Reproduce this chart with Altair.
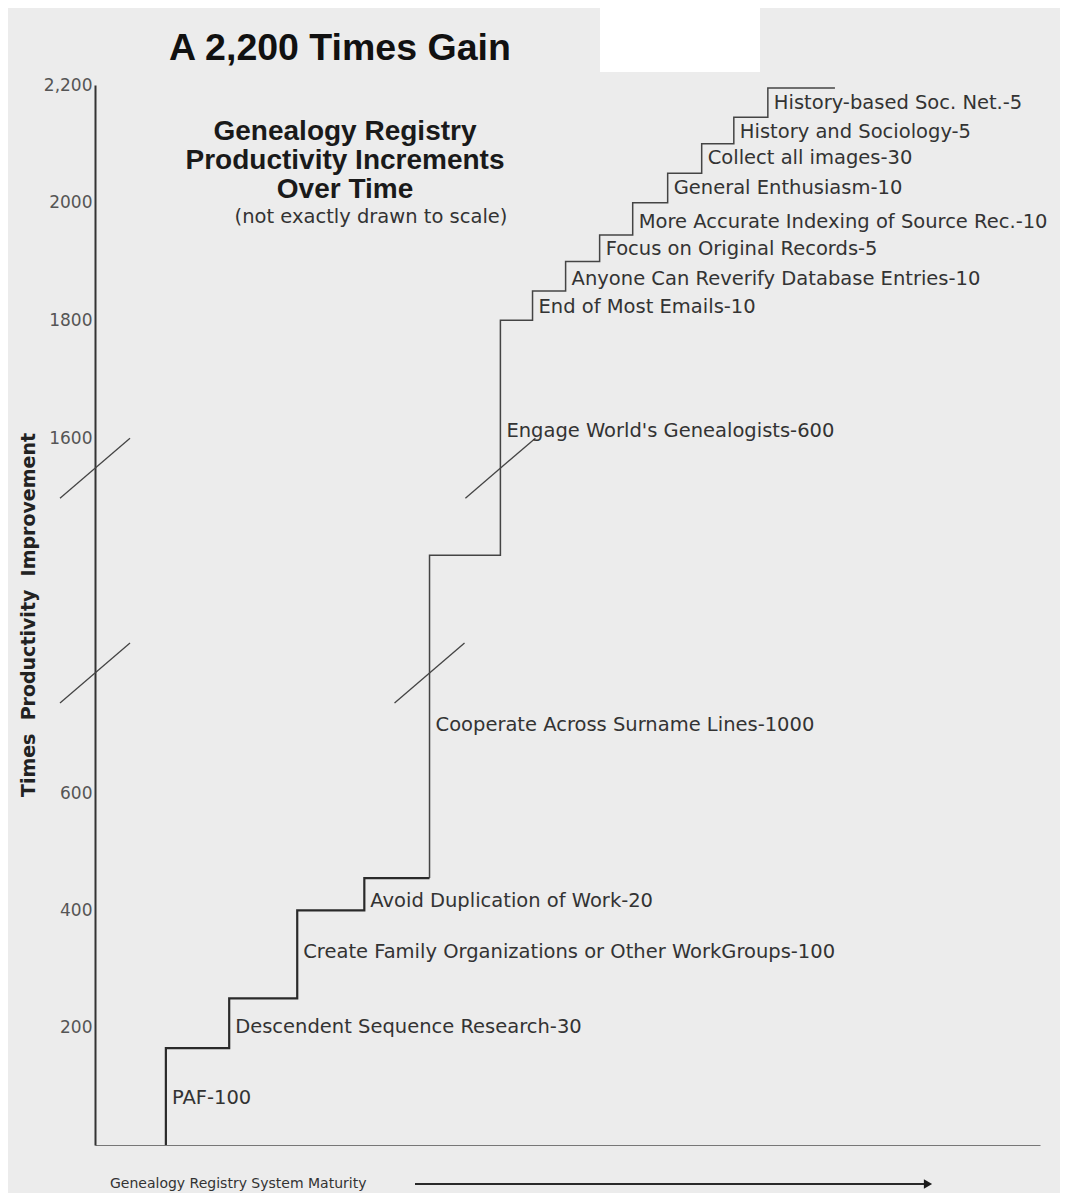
import altair as alt
import pandas as pd

# ---- data ----
step_labels = [
    "PAF-100",
    "Descendent Sequence Research-30",
    "Create Family Organizations or Other WorkGroups-100",
    "Avoid Duplication of Work-20",
    "Cooperate Across Surname Lines-1000",
    "Engage World's Genealogists-600",
    "End of Most Emails-10",
    "Anyone Can Reverify Database Entries-10",
    "Focus on Original Records-5",
    "More Accurate Indexing of Source Rec.-10",
    "General Enthusiasm-10",
    "Collect all images-30",
    "History and Sociology-5",
    "History-based Soc. Net.-5",
]
# system maturity (x) at which each step rises, 0..100
step_maturity = [7.5, 14.2, 21.4, 28.5, 35.4, 42.9, 46.3, 49.8, 53.4, 56.9, 60.6, 64.2, 67.6, 71.2]
end_maturity = 78.3
# level reached after each step (axis units, times improvement)
step_level = [165, 250, 400, 455, 1270, 1800, 1850, 1900, 1945, 2000, 2050, 2100, 2145, 2195]
# where each label sits (axis units)
label_level = [80, 201, 329, 416, 792, 1612, 1823, 1870, 1921, 1967, 2025, 2076, 2120, 2170]

tick_values = [200, 400, 600, 1600, 1800, 2000, 2200]
# broken-scale marks (axis units) and the x where each is drawn
break_level = [938, 1515, 938, 1515]
break_maturity = [0, 0, 35.4, 42.9]

# axis scale is broken (not drawn to scale): piecewise domain
y_domain = [0, 600, 1600, 2200]

W, H = 945, 1062
y_range = [H, 710, 355, 2]

xscale = alt.Scale(domain=[0, 100], nice=False, zero=False)
yscale = alt.Scale(domain=y_domain, range=y_range, nice=False, zero=False)
xaxis = alt.Axis(labels=False, ticks=False, title=None, grid=False,
                 domainColor="#777777", domainWidth=1)
yaxis = alt.Axis(values=tick_values, title=None, grid=False, ticks=False,
                 labelExpr="datum.value == 2200 ? '2,200' : '' + datum.value",
                 labelFont="DejaVu Sans", labelFontSize=17, labelColor="#555555",
                 labelPadding=3, labelFlush=False, labelOverlap=False,
                 domainColor="#333333", domainWidth=2)

X = alt.X("m:Q", scale=xscale, axis=xaxis)
Y = alt.Y("v:Q", scale=yscale, axis=yaxis)

# step line points
xs = [step_maturity[0]] + step_maturity + [end_maturity]
ys = [0] + step_level + [step_level[-1]]
lower = pd.DataFrame({"m": xs[:5] + [step_maturity[4]], "v": ys[:5] + [step_level[3]], "o": list(range(6))})
upper = pd.DataFrame({"m": [step_maturity[4]] + xs[5:], "v": [step_level[3]] + ys[5:],
                      "o": list(range(len(xs) - 4))})

line_lo = alt.Chart(lower).mark_line(interpolate="step-after", color="#2a2a2a", strokeWidth=2.2).encode(
    x=X, y=Y, order="o:Q")
line_hi = alt.Chart(upper).mark_line(interpolate="step-after", color="#444444", strokeWidth=1.5).encode(
    x=X, y=Y, order="o:Q")

labels_df = pd.DataFrame({"m": step_maturity, "v": label_level, "t": step_labels})
labels = alt.Chart(labels_df).mark_text(align="left", baseline="middle", dx=6,
                                        font="DejaVu Sans", fontSize=19.5, color="#333333").encode(
    x=X, y=Y, text="t:N")

breaks_df = pd.DataFrame({"m": break_maturity, "v": break_level})
breaks = alt.Chart(breaks_df).mark_rule(color="#444444", strokeWidth=1.3,
                                        xOffset=-35, yOffset=30, x2Offset=35, y2Offset=-30).encode(
    x=X, y=Y, x2="m:Q", y2="v:Q")

one = pd.DataFrame({"k": [0]})


def txt(s, x, y, **kw):
    return alt.Chart(one).mark_text(**kw).encode(x=alt.value(x), y=alt.value(y), text=alt.value(s))


white_box = alt.Chart(one).mark_rect(color="white").encode(
    x=alt.value(505), x2=alt.value(665), y=alt.value(-75), y2=alt.value(-11))

title = txt("A 2,200 Times Gain", 74, -23, align="left", baseline="alphabetic",
            font="Liberation Sans", fontSize=37.5, fontWeight="bold", color="#111111")
sub1 = txt("Genealogy Registry", 250, 57, align="center", baseline="alphabetic",
           font="Liberation Sans", fontSize=28, fontWeight="bold", color="#1a1a1a")
sub2 = txt("Productivity Increments", 250, 86, align="center", baseline="alphabetic",
           font="Liberation Sans", fontSize=28, fontWeight="bold", color="#1a1a1a")
sub3 = txt("Over Time", 250, 115, align="center", baseline="alphabetic",
           font="Liberation Sans", fontSize=28, fontWeight="bold", color="#1a1a1a")
note = txt("(not exactly drawn to scale)", 276, 140, align="center", baseline="alphabetic",
           font="DejaVu Sans", fontSize=19.5, color="#333333")
ytitle = txt("Times\u00a0\u00a0Productivity\u00a0\u00a0Improvement", -66, 532, align="center",
             baseline="middle", angle=270, font="DejaVu Sans", fontSize=19, fontWeight="bold",
             color="#222222")
xlabel = txt("Genealogy Registry System Maturity", 15, 1101, align="left", baseline="middle",
             font="DejaVu Sans", fontSize=14, color="#333333")
arrow = alt.Chart(one).mark_rule(color="#2a2a2a", strokeWidth=2).encode(
    x=alt.value(320), x2=alt.value(832), y=alt.value(1101))
arrow_head = alt.Chart(one).mark_point(shape="triangle-right", filled=True, size=90,
                                       color="#1a1a1a", opacity=1).encode(
    x=alt.value(833), y=alt.value(1101))

chart = alt.layer(
    white_box, breaks, line_lo, line_hi, labels,
    title, sub1, sub2, sub3, note, ytitle, xlabel, arrow, arrow_head,
).properties(
    width=W, height=H,
    padding={"left": 87, "top": 75, "right": 20, "bottom": 48},
    autosize=alt.AutoSizeParams(type="none"),
    background="#ececec",
).configure_view(strokeWidth=0)

chart.save("out.html", embed_options={"renderer": "svg", "actions": False})
